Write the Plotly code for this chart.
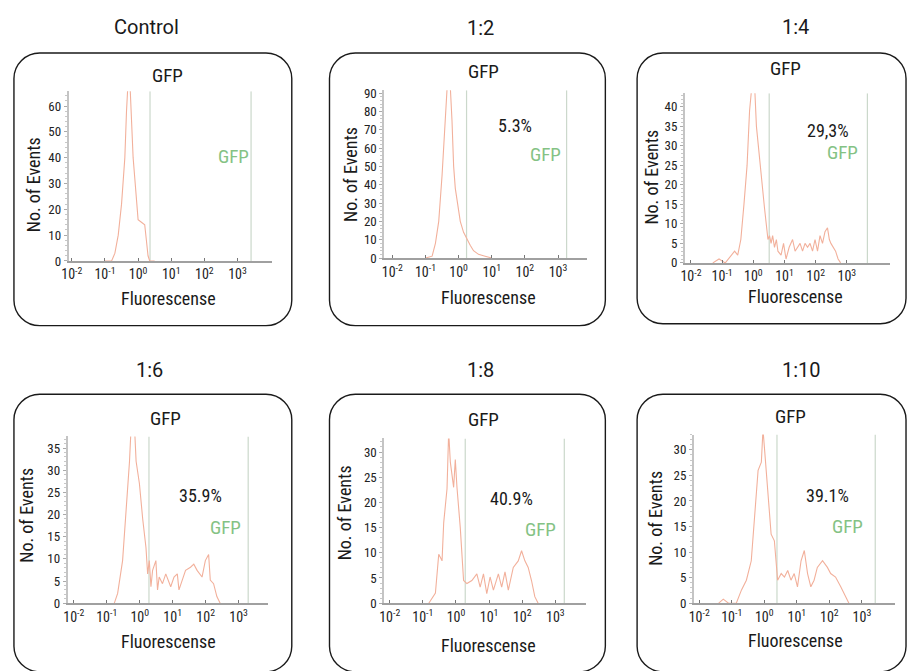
import plotly.graph_objects as go

W, H = 908, 671

# ---------------- data ----------------
panel_titles = ["Control", "1:2", "1:4", "1:6", "1:8", "1:10"]
percent_labels = ["", "5.3%", "29,3%", "35.9%", "40.9%", "39.1%"]
x_tick_exponents = [-2, -1, 0, 1, 2, 3]
x_tick_labels = ["10<sup>-2</sup>", "10<sup>-1</sup>", "10<sup>0</sup>",
                 "10<sup>1</sup>", "10<sup>2</sup>", "10<sup>3</sup>"]

# log10(fluorescence) bin positions and event counts
control_exp = [-1.0, -0.8, -0.7, -0.6, -0.5, -0.4, -0.35, -0.3, -0.25, -0.2, -0.15,
               -0.1, -0.05, 0.0, 0.1, 0.2, 0.25, 0.3, 0.35, 0.5]
control_cnt = [0, 0, 3, 10, 22, 40, 58, 70, 70, 55, 40, 32, 22, 16, 15, 14, 8, 2, 0, 0]

r12_exp = [-1.0, -0.8, -0.7, -0.6, -0.5, -0.4, -0.35, -0.3, -0.25, -0.2, -0.15, -0.1,
           0.0, 0.05, 0.15, 0.25, 0.35, 0.45, 0.6, 0.8, 1.0]
r12_cnt = [0, 1, 8, 20, 45, 80, 92, 95, 93, 75, 50, 38, 26, 20, 14, 10, 7, 4, 2, 1, 0]

r14_exp = [-1.3, -1.1, -0.9, -0.6, -0.5, -0.4, -0.3, -0.2, -0.12, -0.05, 0.0, 0.05, 0.1,
           0.18, 0.25, 0.36, 0.47, 0.52, 0.57, 0.62, 0.68, 0.74, 0.79, 0.89, 0.97, 1.05,
           1.15, 1.26, 1.34, 1.42, 1.5, 1.58, 1.66, 1.74, 1.82, 1.9, 1.98, 2.06, 2.14,
           2.22, 2.3, 2.38, 2.44, 2.49, 2.57, 2.64, 2.72, 2.8]
r14_cnt = [0, 1, 0, 3, 2, 6, 15, 25, 39, 45, 46, 44, 35, 28, 22, 14, 6, 7, 5, 7, 4, 6,
           3, 2, 5, 1, 4, 6, 3, 4, 5, 3, 5, 4, 5, 3, 6, 3, 7, 5, 8, 9, 6, 5, 4, 3, 1, 0]

r16_exp = [-0.77, -0.67, -0.52, -0.41, -0.31, -0.26, -0.16, -0.11, -0.01, 0.09, 0.19,
           0.24, 0.29, 0.34, 0.39, 0.49, 0.54, 0.59, 0.69, 0.79, 0.94, 1.04, 1.14, 1.19,
           1.29, 1.39, 1.54, 1.64, 1.74, 1.89, 1.99, 2.09, 2.14, 2.24, 2.34, 2.44]
r16_cnt = [0, 2.2, 9.6, 21, 32, 40, 40, 32, 27, 19, 12.5, 6.6, 9.6, 3.7, 7.4, 9.6, 3,
           5.9, 4.4, 6.6, 3.7, 5.9, 6.6, 3, 5.2, 7.4, 8.1, 8.8, 7.4, 5.9, 9.6, 11, 5.2,
           4.4, 1.5, 0]

r18_exp = [-0.82, -0.62, -0.52, -0.42, -0.37, -0.27, -0.22, -0.17, -0.07, -0.02, 0.03,
           0.13, 0.23, 0.33, 0.48, 0.63, 0.73, 0.83, 0.93, 1.03, 1.13, 1.28, 1.38, 1.48,
           1.58, 1.73, 1.88, 1.98, 2.08, 2.18, 2.28, 2.38, 2.48]
r18_cnt = [0, 2, 9.7, 8.4, 16, 22.7, 34, 28, 23, 28.5, 23, 15, 4.5, 3.9, 4.5, 5.8, 3.2,
           5.8, 1.9, 5.2, 2.6, 5.8, 3.2, 6.2, 2.6, 7.1, 8.4, 10.4, 8.4, 7.1, 4.5, 1.3, 0]

r110_exp = [-1.4, -1.26, -1.1, -0.86, -0.7, -0.55, -0.4, -0.29, -0.19, -0.09, -0.04,
            0.01, 0.11, 0.21, 0.31, 0.41, 0.52, 0.62, 0.72, 0.82, 0.92, 1.02, 1.13,
            1.23, 1.33, 1.43, 1.53, 1.63, 1.79, 1.94, 2.04, 2.19, 2.35, 2.5, 2.6]
r110_cnt = [0, 0.8, 0, 0, 2.6, 4.5, 8.3, 18.6, 26, 27.6, 34, 30, 21.8, 13.5, 12.2, 4.5,
            5.8, 5.1, 6.4, 4.5, 5.8, 3.2, 8.3, 10.3, 5.8, 3.2, 4.5, 7, 8.3, 7, 5.8, 5.1,
            3.2, 1.3, 0]

y_maxima = [65.7, 91.5, 43.5, 37.6, 32.7, 33.0]
y_dticks = [10, 10, 5, 5, 5, 5]
x_ranges = [(-2.1, 4.04), (-2.25, 3.89), (-2.2, 4.39), (-2.19, 3.89), (-2.17, 3.91), (-2.17, 4.02)]
gate_exponents = [(0.36, 3.41), (0.24, 3.26), (0.51, 3.66), (0.28, 3.29), (0.28, 3.27), (0.39, 3.41)]

series_exp = [control_exp, r12_exp, r14_exp, r16_exp, r18_exp, r110_exp]
series_cnt = [control_cnt, r12_cnt, r14_cnt, r16_cnt, r18_cnt, r110_cnt]

# ---------------- layout geometry (pixels) ----------------
plot_px = [  # left, right, top, bottom
    (62, 267, 88, 261), (380, 585, 87, 258), (683, 890, 90, 263),
    (61, 263, 440, 610), (380, 583, 442, 610), (692, 895, 438, 610)]
box_px = [(7, 287, 49, 327), (325, 603, 49, 327), (635, 906, 49, 325),
          (7, 287, 397, 680), (325, 603, 397, 680), (635, 906, 397, 680)]
group_title_px = [(141, 22), (477, 23), (795, 22), (144, 372), (477, 372), (801, 372)]
gfp_title_px = [(162, 72), (480, 68), (785, 65), (160, 422), (480, 423), (790, 420)]
fluor_px = [(163, 299), (485, 298), (795, 297), (163, 649), (485, 653), (795, 648)]
events_px = [(27, 183), (346, 173), (650, 175), (20, 520), (341, 518), (654, 523)]
pct_px = [(0, 0), (512, 123), (827, 128), (195, 500), (508, 503), (827, 500)]
green_px = [(228, 155), (543, 152), (842, 150), (220, 533), (538, 535), (847, 532)]

FONT = "Liberation Sans Narrow, Roboto Condensed, Arial Narrow, Liberation Sans, sans-serif"
TITLE_FONT = "Roboto, Liberation Sans, sans-serif"
LINE_COLOR = "#f2b09b"
GREEN = "#84c284"


def px(x):
    return x / W


def py(y):
    return 1 - y / H


fig = go.Figure()
annotations = []
shapes = []
layout_axes = {}

for i in range(6):
    n = i + 1
    xa = "x" if n == 1 else f"x{n}"
    ya = "y" if n == 1 else f"y{n}"
    l, r, t, b = plot_px[i]

    # gate lines
    for g in gate_exponents[i]:
        fig.add_trace(go.Scatter(
            x=[10 ** g, 10 ** g], y=[0, y_maxima[i]], mode="lines",
            line=dict(color="#cbd8cb", width=1.2), xaxis=xa, yaxis=ya,
            showlegend=False, hoverinfo="skip"))

    fig.add_trace(go.Scatter(
        x=[10 ** e for e in series_exp[i]], y=series_cnt[i], mode="lines",
        line=dict(color=LINE_COLOR, width=1.1), xaxis=xa, yaxis=ya,
        showlegend=False, hoverinfo="skip"))

    layout_axes["xaxis" if n == 1 else f"xaxis{n}"] = dict(
        type="log", domain=[px(l), px(r)], range=list(x_ranges[i]), anchor=ya,
        tickvals=[10 ** e for e in x_tick_exponents], ticktext=x_tick_labels,
        showgrid=False, zeroline=False, showline=True, linecolor="#a0a0a0",
        linewidth=1.5, ticks="inside", ticklen=3, tickcolor="#777",
        tickfont=dict(family=FONT, size=14, color="#222"))
    layout_axes["yaxis" if n == 1 else f"yaxis{n}"] = dict(
        domain=[py(b), py(t)], range=[0, y_maxima[i]], anchor=xa,
        dtick=y_dticks[i], showgrid=False, zeroline=False, showline=True,
        linecolor="#c4c4c4", linewidth=1.5, ticks="outside", ticklen=3,
        tickcolor="#aaa", minor=dict(dtick=y_dticks[i] / 5, ticks="outside",
                                     ticklen=2, tickcolor="#c8c8c8"),
        tickfont=dict(family=FONT, size=13, color="#222"))

    # rounded box
    bl, br, bt, bb = box_px[i]
    rad = 26
    x0, x1 = px(bl), px(br)
    y0, y1 = py(bb), py(bt)
    rx, ry = rad / W, rad / H
    k = 0.45
    path = (f"M {x0 + rx},{y1} L {x1 - rx},{y1} "
            f"C {x1 - rx * k},{y1} {x1},{y1 - ry * k} {x1},{y1 - ry} "
            f"L {x1},{y0 + ry} "
            f"C {x1},{y0 + ry * k} {x1 - rx * k},{y0} {x1 - rx},{y0} "
            f"L {x0 + rx},{y0} "
            f"C {x0 + rx * k},{y0} {x0},{y0 + ry * k} {x0},{y0 + ry} "
            f"L {x0},{y1 - ry} "
            f"C {x0},{y1 - ry * k} {x0 + rx * k},{y1} {x0 + rx},{y1} Z")
    shapes.append(dict(type="path", path=path, xref="paper", yref="paper",
                       line=dict(color="#1a1a1a", width=1.4), layer="below"))

    def ann(text, pos, size, color="#1a1a1a", angle=0, family=FONT):
        annotations.append(dict(
            text=text, x=px(pos[0]), y=py(pos[1]),
            xref="paper", yref="paper", showarrow=False, textangle=angle,
            xanchor="center", yanchor="middle",
            font=dict(family=family, size=size, color=color)))

    ann(panel_titles[i], group_title_px[i], 20, "#1a1a1a", family=TITLE_FONT)
    ann("GFP", gfp_title_px[i], 19)
    ann("Fluorescense", fluor_px[i], 18)
    ann("No. of Events", events_px[i], 18, angle=-90)
    if percent_labels[i]:
        ann(percent_labels[i], pct_px[i], 18)
    ann("GFP", green_px[i], 19, GREEN)

fig.update_layout(
    width=W, height=H, margin=dict(l=0, r=0, t=0, b=0),
    paper_bgcolor="white", plot_bgcolor="rgba(0,0,0,0)",
    annotations=annotations, shapes=shapes, showlegend=False, **layout_axes)

fig.write_html("out.html")
